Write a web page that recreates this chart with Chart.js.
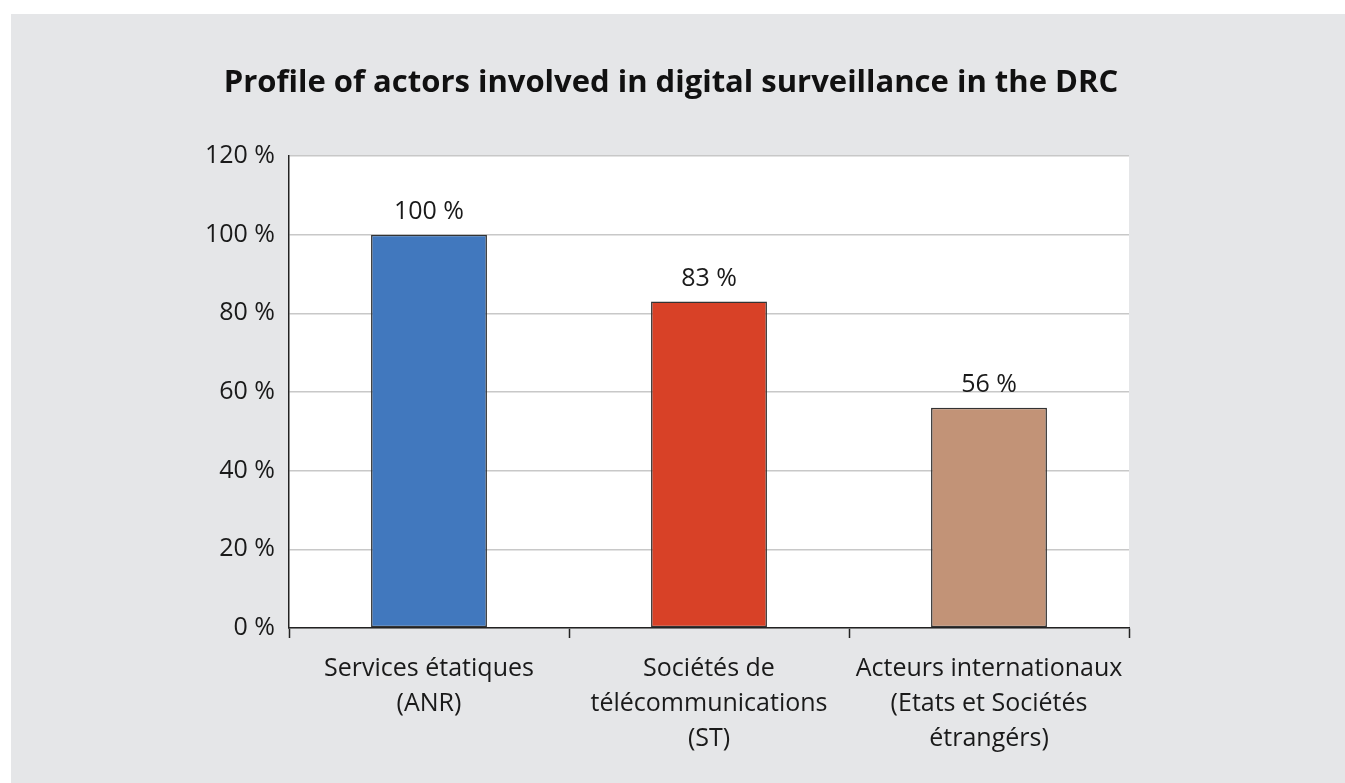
<!doctype html>
<html lang="en">
  <head>
    <meta charset="utf-8">
    <title>Profile of actors involved in digital surveillance in the DRC</title>
    <style>
      * {
        margin: 0;
        padding: 0;
      }
      body {
        background: #ffffff;
        width: 1345px;
        height: 783px;
        overflow: hidden;
      }
      .chartCard {
        position: absolute;
        left: 11px;
        top: 14px;
        width: 1334px;
        height: 769px;
        background: #e5e6e8;
      }
    </style>
  </head>
  <body>
    <div class="chartCard">
      <canvas id="myChart" width="1334" height="769"></canvas>
    </div>
    <script src="https://cdn.jsdelivr.net/npm/chart.js/dist/chart.umd.min.js"></script>
    <script>
    const chartTitle = 'Profile of actors involved in digital surveillance in the DRC';
    const actors = [
      ['Services étatiques', '(ANR)'],
      ['Sociétés de', 'télécommunications', '(ST)'],
      ['Acteurs internationaux', '(Etats et Sociétés', 'étrangérs)']
    ];
    const shares = [100, 83, 56];
    const barColors = ['#4178be', '#d84127', '#c29377'];
    const yTicks = [0, 20, 40, 60, 80, 100, 120];

    const FONT = "'Open Sans', sans-serif";

    // white plot area behind the bars, plus the title (it sits off-centre of the canvas)
    const plotBg = {
      id: 'plotBg',
      beforeDraw(chart) {
        const {ctx, chartArea: a} = chart;
        ctx.save();
        ctx.fillStyle = '#ffffff';
        ctx.fillRect(a.left, a.top, a.right - a.left, a.bottom - a.top);
        ctx.font = 'bold 31px ' + FONT;
        ctx.fillStyle = '#111111';
        ctx.textAlign = 'center';
        ctx.textBaseline = 'middle';
        ctx.fillText(chartTitle, 660, 69);
        ctx.restore();
      }
    };

    // value labels above bars
    const valueLabels = {
      id: 'valueLabels',
      afterDatasetsDraw(chart) {
        const {ctx} = chart;
        const meta = chart.getDatasetMeta(0);
        ctx.save();
        ctx.font = '25px ' + FONT;
        ctx.fillStyle = '#1a1a1a';
        ctx.textAlign = 'center';
        ctx.textBaseline = 'alphabetic';
        meta.data.forEach((bar, i) => {
          ctx.fillText(shares[i] + ' %', bar.x, bar.y - 16);
        });
        ctx.restore();
      }
    };

    const data = {
      labels: actors,
      datasets: [{
        data: shares,
        backgroundColor: barColors,
        borderColor: '#333333',
        borderWidth: 1.5,
        borderSkipped: false,
        categoryPercentage: 1,
        barPercentage: 0.414
      }]
    };

    const config = {
      type: 'bar',
      data,
      options: {
        responsive: false,
        animation: false,
        layout: {
          padding: {left: 0, right: 216, top: 142, bottom: 0}
        },
        plugins: {
          legend: {display: false},
          tooltip: {enabled: false},
          title: {display: false}
        },
        scales: {
          x: {
            offset: true,
            grid: {
              display: true,
              offset: true,
              drawOnChartArea: false,
              drawTicks: true,
              tickLength: 10,
              tickWidth: 1.5,
              tickColor: '#222222'
            },
            border: {display: true, color: '#222222', width: 1.5},
            ticks: {
              color: '#1a1a1a',
              padding: 13,
              maxRotation: 0,
              font: {family: FONT, size: 25, lineHeight: 1.4}
            },
            afterFit(scale) {
              scale.height = 155;
            }
          },
          y: {
            min: 0,
            max: 120,
            afterBuildTicks(scale) {
              scale.ticks = yTicks.map(v => ({value: v}));
            },
            grid: {
              color: '#c8c8c8',
              lineWidth: 1.5,
              drawTicks: false
            },
            border: {display: true, color: '#222222', width: 1.5},
            ticks: {
              color: '#1a1a1a',
              padding: 14,
              font: {family: FONT, size: 25},
              callback: v => v + ' %'
            },
            afterFit(scale) {
              scale.width = 278;
            }
          }
        }
      },
      plugins: [plotBg, valueLabels]
    };

    const myChart = new Chart(document.getElementById('myChart'), config);
    </script>
  </body>
</html>
